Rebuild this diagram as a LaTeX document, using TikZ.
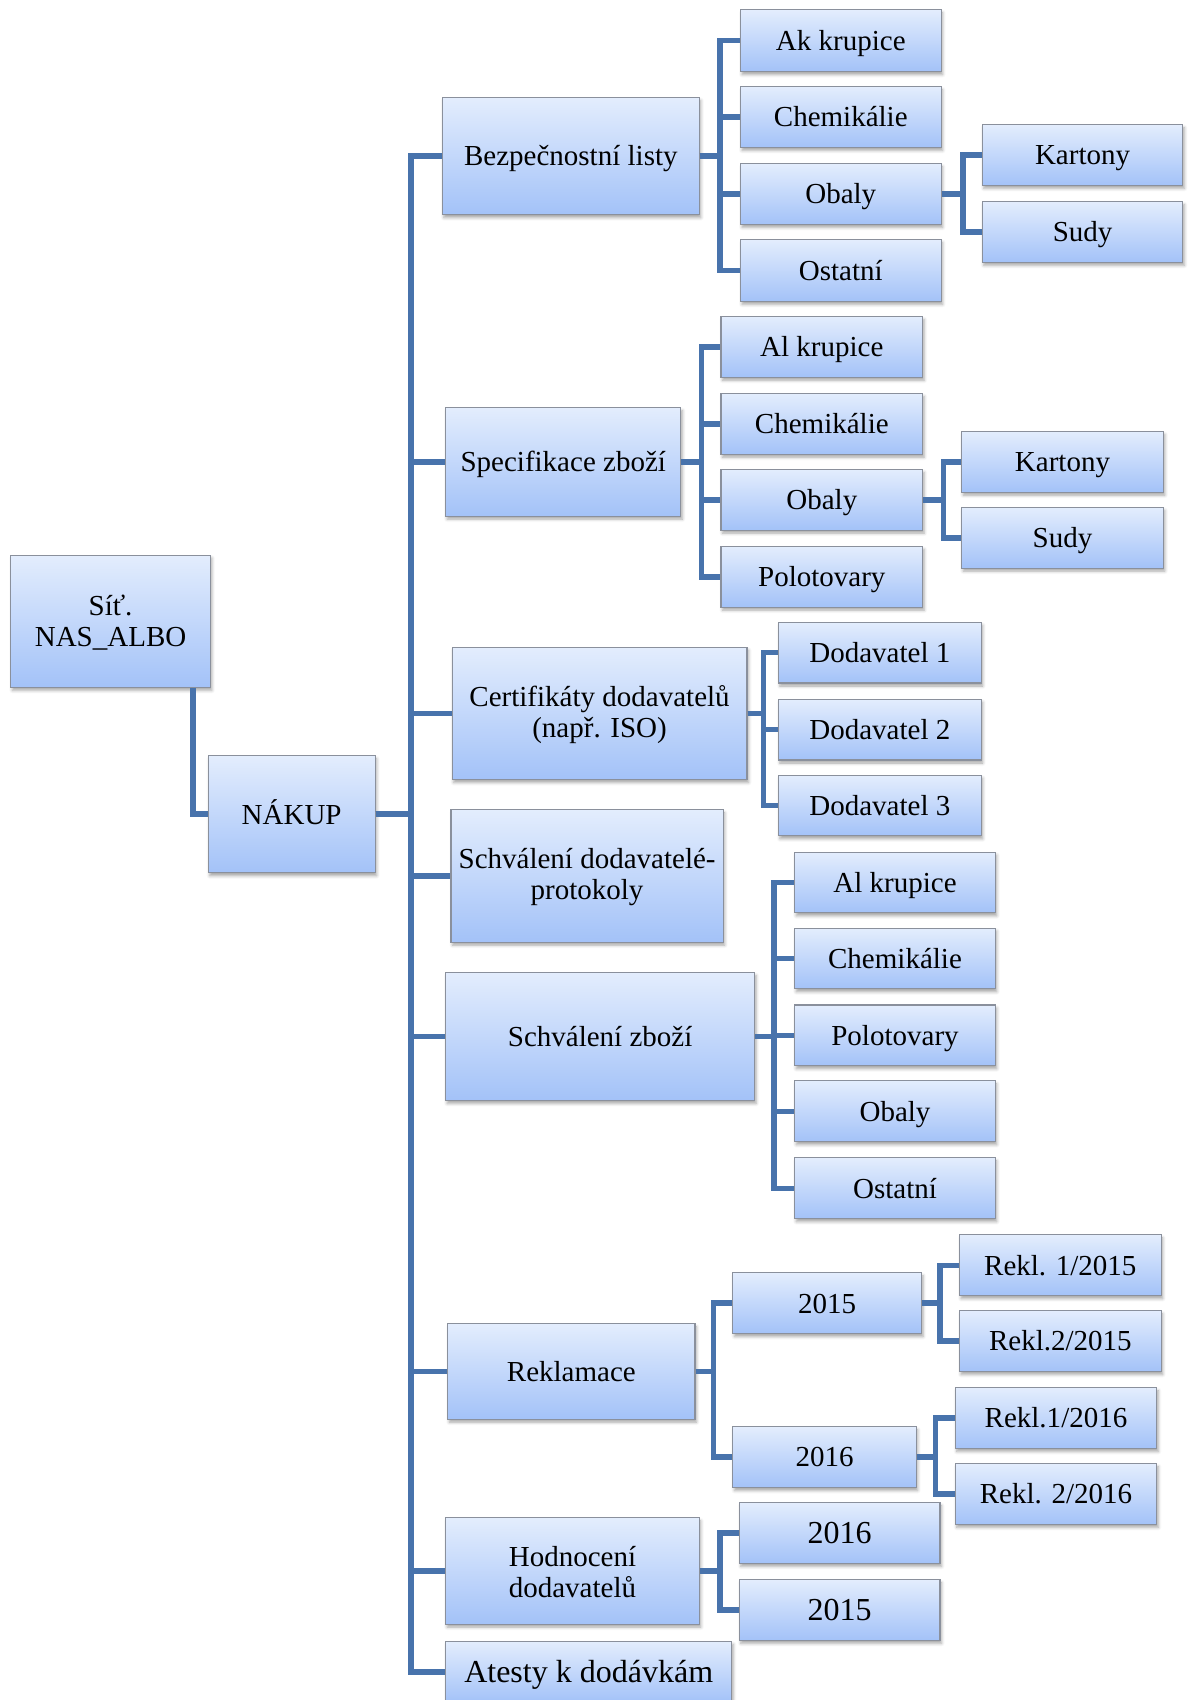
\documentclass[tikz,border=0pt]{standalone}
\usepackage{fontspec}
\setmainfont{Liberation Serif}
\usetikzlibrary{shadows.blur}

\definecolor{linkblue}{RGB}{72,115,172}
\definecolor{boxtop}{RGB}{227,237,253}
\definecolor{boxbot}{RGB}{163,194,248}
\definecolor{boxedge}{RGB}{138,144,156}

\newcommand\regfont{\fontsize{29}{31}\selectfont}
\newcommand\largefont{\fontsize{32}{34}\selectfont}

\tikzset{
  item/.style={rectangle, draw=boxedge, line width=1.1pt,
    top color=boxtop, bottom color=boxbot, inner sep=0pt,
    blur shadow={shadow xshift=1.5pt, shadow yshift=-3pt,
      shadow blur radius=3pt, shadow opacity=35}},
  caption/.style={align=center, inner sep=0pt, font=\regfont},
  single/.style={anchor=base, yshift=-9.8pt},
  multi/.style={anchor=center, yshift=-1.5pt},
  big/.style={font=\largefont, anchor=base, yshift=-10.6pt},
  link/.style={draw=linkblue, line width=5.5pt, line join=miter},
}

% \bx[caption style]{name}{left}{top}{right}{bottom}{text}
\newcommand\bx[7][single]{%
  \node[item, minimum width={(#5-#3)*1.0839pt},
        minimum height={(#6-#4)*1.0839pt}]
    (#2) at ({(#3+#5)/2},{(#4+#6)/2}) {};
  \node[caption, #1] (#2-text) at (#2.center) {#7};}

% \branch{parent}{bracket x}{children}
\newcommand\branch[3]{%
  \coordinate (brk) at (#2,0);
  \foreach \c in {#3}{\draw[link] (#1.east) -- (#1.east -| brk) |- (\c.west);}}

\begin{document}
\begin{tikzpicture}[x=1.0839pt, y=-1.0839pt]
\useasboundingbox (0,0) rectangle (1097,1568);

% root and purchasing
\bx[multi]{sit}{10}{512}{194}{634}{Síť.\\NAS\_ALBO}
\bx{nak}{192}{697}{346}{805}{NÁKUP}

% first level
\bx{bl}{408}{90}{645}{198}{Bezpečnostní listy}
\bx{sz}{411}{376}{628}{476}{Specifikace zboží}
\bx[multi]{cd}{417}{597}{689}{719}{Certifikáty dodavatelů\\(např. ISO)}
\bx[multi]{sd}{416}{747}{667}{869}{Schválení dodavatelé-\\protokoly}
\bx{szb}{411}{897}{696}{1015}{Schválení zboží}
\bx{rk}{413}{1221}{641}{1309}{Reklamace}
\bx[multi]{hd}{411}{1400}{645}{1498}{Hodnocení\\dodavatelů}
\bx[big]{at}{411}{1514}{675}{1570}{Atesty k dodávkám}

% safety data sheets
\bx{bla}{683}{9}{868}{66}{Ak krupice}
\bx{blb}{683}{80}{868}{136}{Chemikálie}
\bx{blc}{683}{151}{868}{207}{Obaly}
\bx{bld}{683}{221}{868}{278}{Ostatní}
\bx{blca}{906}{115}{1091}{171}{Kartony}
\bx{blcb}{906}{186}{1091}{242}{Sudy}

% goods specification
\bx{sza}{665}{292}{851}{348}{Al krupice}
\bx{szbb}{665}{363}{851}{419}{Chemikálie}
\bx{szc}{665}{433}{851}{489}{Obaly}
\bx{szd}{665}{504}{851}{560}{Polotovary}
\bx{szca}{887}{398}{1073}{454}{Kartony}
\bx{szcb}{887}{468}{1073}{524}{Sudy}

% supplier certificates
\bx{cda}{718}{574}{905}{630}{Dodavatel 1}
\bx{cdb}{718}{645}{905}{701}{Dodavatel 2}
\bx{cdc}{718}{715}{905}{771}{Dodavatel 3}

% goods approval
\bx{sga}{733}{786}{918}{842}{Al krupice}
\bx{sgb}{733}{856}{918}{912}{Chemikálie}
\bx{sgc}{733}{927}{918}{983}{Polotovary}
\bx{sgd}{733}{997}{918}{1053}{Obaly}
\bx{sge}{733}{1068}{918}{1124}{Ostatní}

% complaints
\bx{rka}{676}{1174}{850}{1230}{2015}
\bx{rkb}{676}{1316}{845}{1372}{2016}
\bx{rkaa}{885}{1139}{1071}{1195}{Rekl. 1/2015}
\bx{rkab}{885}{1209}{1071}{1265}{Rekl.2/2015}
\bx{rkba}{881}{1280}{1067}{1336}{Rekl.1/2016}
\bx{rkbb}{881}{1350}{1067}{1406}{Rekl. 2/2016}

% supplier evaluation
\bx[big]{hda}{682}{1386}{867}{1442}{2016}
\bx[big]{hdb}{682}{1457}{867}{1513}{2015}

% connectors
\coordinate (sx) at (178,0);
\draw[link] (sit.south -| sx) |- (nak.west);
\branch{nak}{379}{bl,sz,cd,sd,szb,rk,hd,at}
\branch{bl}{664}{bla,blb,blc,bld}
\branch{blc}{888}{blca,blcb}
\branch{sz}{647}{sza,szbb,szc,szd}
\branch{szc}{870}{szca,szcb}
\branch{cd}{704}{cda,cdb,cdc}
\branch{szb}{714}{sga,sgb,sgc,sgd,sge}
\branch{rk}{658}{rka,rkb}
\branch{rka}{867}{rkaa,rkab}
\branch{rkb}{863}{rkba,rkbb}
\branch{hd}{664}{hda,hdb}
\end{tikzpicture}
\end{document}
